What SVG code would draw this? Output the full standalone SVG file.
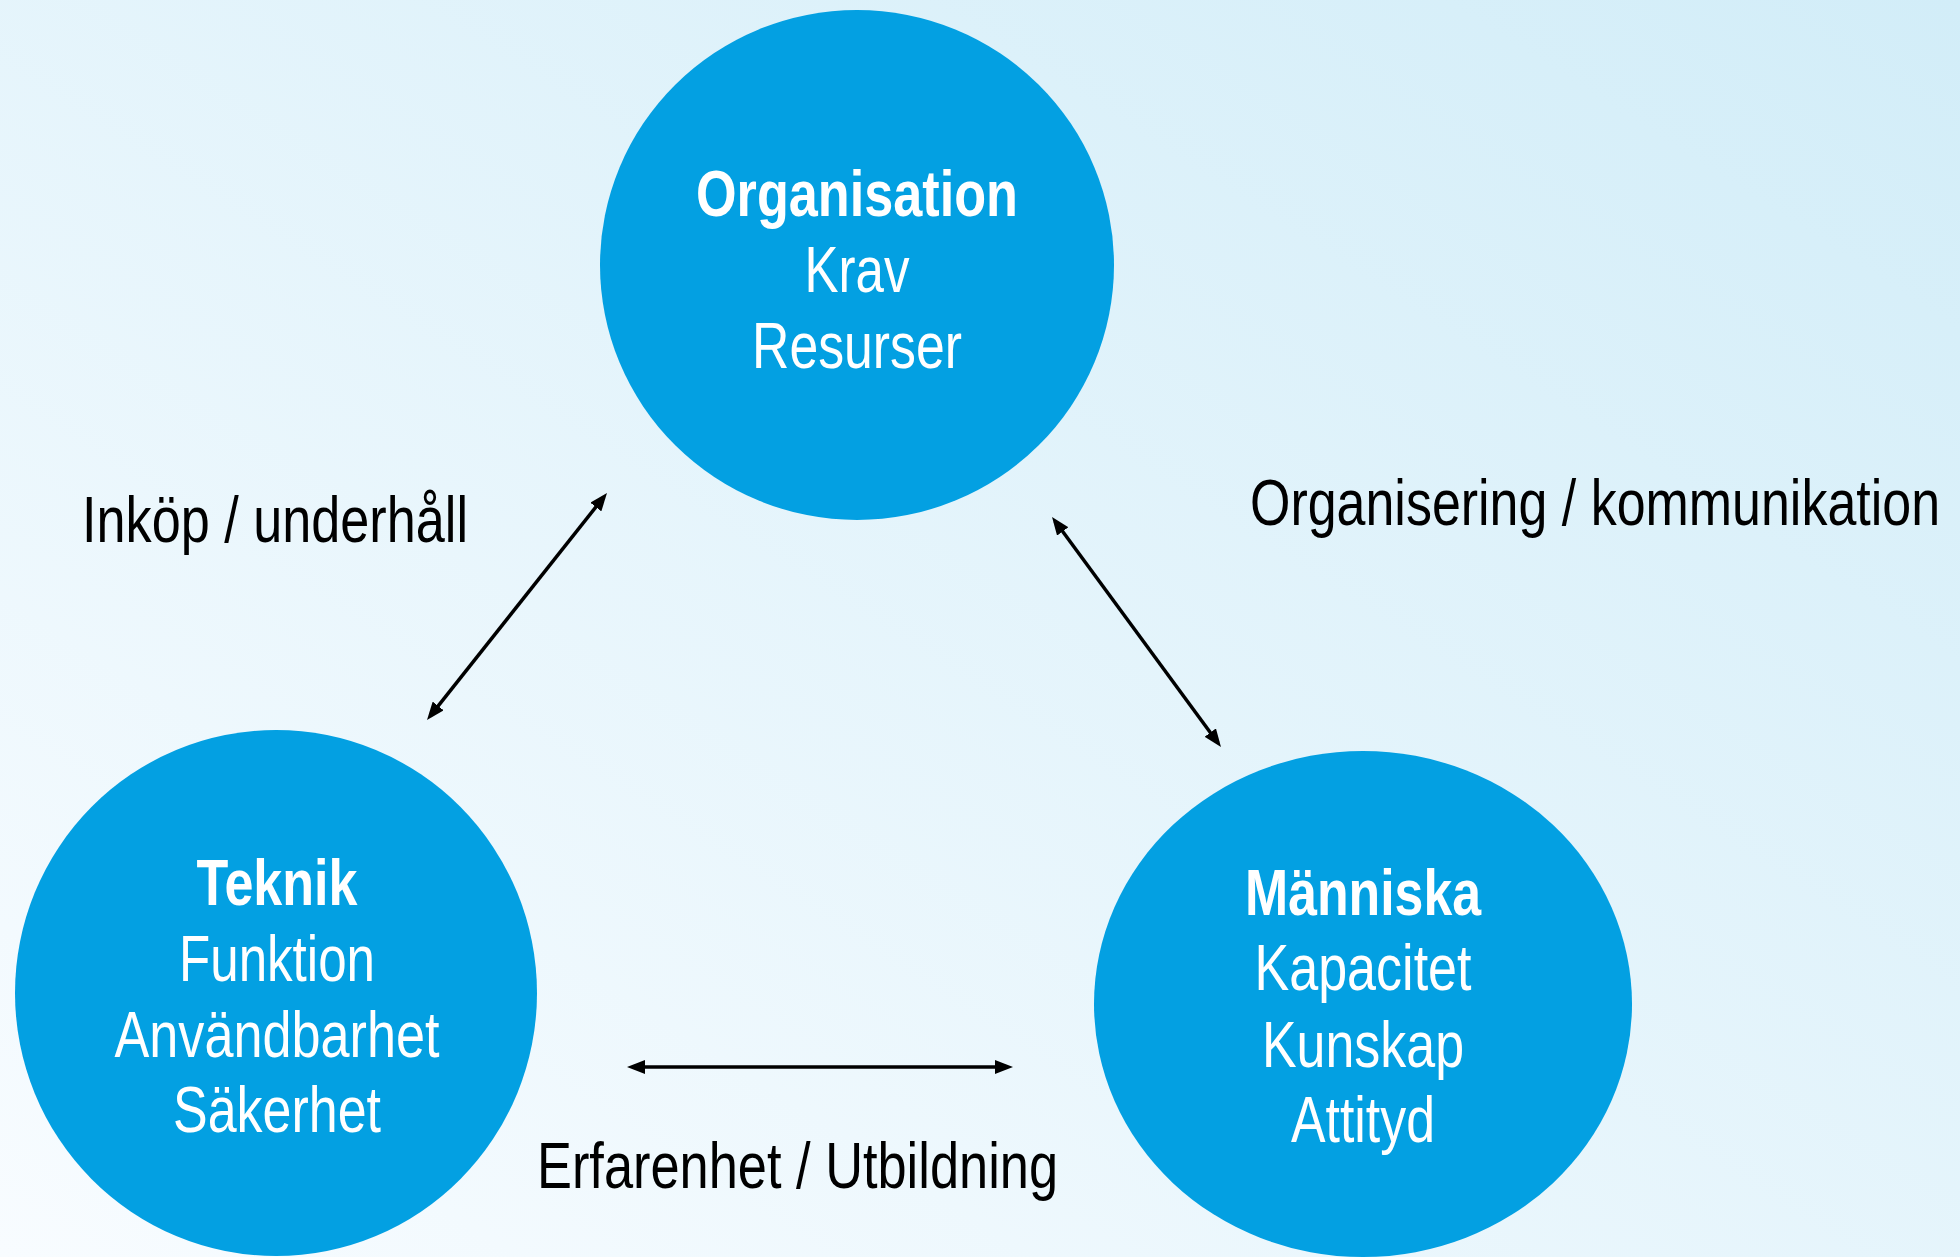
<svg xmlns="http://www.w3.org/2000/svg" width="1960" height="1257" viewBox="0 0 1960 1257">
  <defs>
    <linearGradient id="bg" x1="0" y1="1" x2="1" y2="0">
      <stop offset="0" stop-color="#F8FCFF"/>
      <stop offset="1" stop-color="#D2EDF8"/>
    </linearGradient>
    <marker id="ah" viewBox="0 0 18 14" refX="13" refY="7" markerWidth="18" markerHeight="14" markerUnits="userSpaceOnUse" orient="auto-start-reverse">
      <path d="M0,0 L18,7 L0,14 z" fill="#000"/>
    </marker>
    <style>
      .node { fill: #03A0E2; }
      .t { font-family: "Liberation Sans Narrow", "Liberation Sans", Arial, sans-serif; font-size: 64px; text-anchor: middle; fill: #FFFFFF; }
      .b { font-weight: bold; }
      .lbl { font-family: "Liberation Sans Narrow", "Liberation Sans", Arial, sans-serif; font-size: 64px; fill: #000000; }
      .conn { stroke: #000; stroke-width: 3.5; fill: none; marker-start: url(#ah); marker-end: url(#ah); }
    </style>
  </defs>
  <rect x="0" y="0" width="1960" height="1257" fill="url(#bg)"/>

  <g id="connectors">
    <line class="conn" x1="430.1" y1="716.1" x2="603.9" y2="496.9"/>
    <line class="conn" x1="1055" y1="521" x2="1218" y2="743"/>
    <line class="conn" x1="632" y1="1067" x2="1008" y2="1067"/>
  </g>

  <g id="node-organisation">
    <ellipse class="node" cx="857" cy="265" rx="257" ry="255"/>
    <text class="t b" x="857" y="216" textLength="322" lengthAdjust="spacingAndGlyphs">Organisation</text>
    <text class="t" x="857" y="292" textLength="105" lengthAdjust="spacingAndGlyphs">Krav</text>
    <text class="t" x="857" y="368" textLength="210" lengthAdjust="spacingAndGlyphs">Resurser</text>
  </g>

  <g id="node-teknik">
    <ellipse class="node" cx="276" cy="993" rx="261" ry="263"/>
    <text class="t b" x="277" y="905" textLength="161" lengthAdjust="spacingAndGlyphs">Teknik</text>
    <text class="t" x="277" y="981" textLength="196" lengthAdjust="spacingAndGlyphs">Funktion</text>
    <text class="t" x="277" y="1057" textLength="325" lengthAdjust="spacingAndGlyphs">Användbarhet</text>
    <text class="t" x="277" y="1132" textLength="208" lengthAdjust="spacingAndGlyphs">Säkerhet</text>
  </g>

  <g id="node-manniska">
    <ellipse class="node" cx="1363" cy="1004" rx="269" ry="253"/>
    <text class="t b" x="1363" y="915" textLength="236" lengthAdjust="spacingAndGlyphs">Människa</text>
    <text class="t" x="1363" y="990" textLength="217" lengthAdjust="spacingAndGlyphs">Kapacitet</text>
    <text class="t" x="1363" y="1067" textLength="202" lengthAdjust="spacingAndGlyphs">Kunskap</text>
    <text class="t" x="1363" y="1142" textLength="144" lengthAdjust="spacingAndGlyphs">Attityd</text>
  </g>

  <g id="labels">
    <text class="lbl" x="82" y="542" textLength="386" lengthAdjust="spacingAndGlyphs">Inköp / underhåll</text>
    <text class="lbl" transform="translate(1250,525) scale(0.82,1)" x="0" y="0" textLength="841.5" lengthAdjust="spacingAndGlyphs">Organisering / kommunikation</text>
    <text class="lbl" x="537" y="1188" textLength="521" lengthAdjust="spacingAndGlyphs">Erfarenhet / Utbildning</text>
  </g>
</svg>
